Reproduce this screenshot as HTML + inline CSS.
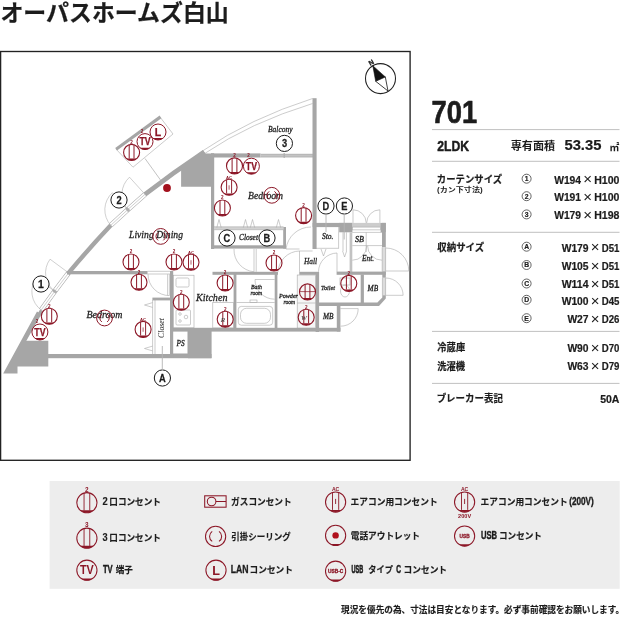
<!DOCTYPE html>
<html lang="ja"><head><meta charset="utf-8"><title>オーパスホームズ白山 701</title>
<style>html,body{margin:0;padding:0;background:#fff}body{width:640px;height:640px;overflow:hidden}svg{display:block;will-change:transform}</style></head>
<body>
<svg width="640" height="640" viewBox="0 0 640 640">
<rect width="640" height="640" fill="#fff"/>
<text transform="translate(0.44 21.00) scale(1.0014 1)" font-family='"Liberation Sans","Noto Sans CJK JP",sans-serif' font-size="22.9" font-weight="bold" font-style="normal" fill="#1c1c1c" stroke="#1c1c1c" stroke-width="0.25" stroke-linejoin="round" vector-effect="non-scaling-stroke" >オーパスホームズ白山</text>
<rect x="0.6" y="51.5" width="409.5" height="408.8" fill="none" stroke="#222" stroke-width="1.35"/>
<g id="plan">
<path d="M203.1 150.6 Q250 118.5 312.6 98.5" stroke="#a9a9a9" stroke-width="0.6" fill="none" />
<path d="M205.2 153.2 Q250 122.8 312.6 103.5" stroke="#a9a9a9" stroke-width="0.6" fill="none" />
<path d="M41.20 310.00 A1100.0 1100.0 0 0 1 68.60 272.90" stroke="#a9a9a9" stroke-width="5.0" fill="none" />
<path d="M41.31 309.85 A1100.0 1100.0 0 0 1 68.49 273.05" stroke="#fff" stroke-width="3.9" fill="none" />
<path d="M41.20 310.00 A1100.0 1100.0 0 0 1 68.60 272.90" stroke="#a9a9a9" stroke-width="0.55" fill="none" />
<path d="M53.88 292.42 L55.53 290.19" stroke="#b2b2b2" stroke-width="4.4" fill="none" />
<path d="M110.80 225.30 A1100.0 1100.0 0 0 1 145.00 194.30" stroke="#a9a9a9" stroke-width="5.0" fill="none" />
<path d="M110.94 225.18 A1100.0 1100.0 0 0 1 144.86 194.42" stroke="#fff" stroke-width="3.9" fill="none" />
<path d="M110.80 225.30 A1100.0 1100.0 0 0 1 145.00 194.30" stroke="#a9a9a9" stroke-width="0.55" fill="none" />
<path d="M126.71 210.55 L128.76 208.69" stroke="#b2b2b2" stroke-width="4.4" fill="none" />
<path d="M22.22 344.67 A1100.0 1100.0 0 0 1 41.60 310.40" stroke="#a6a6a6" stroke-width="3.6" fill="none" />
<path d="M67.76 273.85 A1100.0 1100.0 0 0 1 110.80 225.30" stroke="#a6a6a6" stroke-width="4.4" fill="none" />
<path d="M145.00 194.30 A1100.0 1100.0 0 0 1 204.10 152.00" stroke="#a6a6a6" stroke-width="4.6" fill="none" />
<path d="M3.2 373.4 L17.5 373.4 L17.5 366.6 L48.3 366.6 L48.3 340.8 L25.6 340.8 L39.4 313 L37 311.4 Z" fill="#a6a6a6"/>
<rect x="48.00" y="354.00" width="163.50" height="4.20" fill="#a6a6a6" />
<path d="M181.1 167.5 L203 150.2 L205.6 153.4 L214 153.4 L214 186.8 L181.1 186.8 Z" fill="#a6a6a6"/>
<rect x="211.00" y="153.40" width="49.50" height="4.10" fill="#a6a6a6" />
<rect x="260.50" y="154.00" width="52.50" height="3.20" fill="#c4c4c4" />
<line x1="260.50" y1="154.20" x2="313.00" y2="154.20" stroke="#a9a9a9" stroke-width="0.6" />
<line x1="260.50" y1="157.00" x2="313.00" y2="157.00" stroke="#a9a9a9" stroke-width="0.6" />
<rect x="283.50" y="153.20" width="1.50" height="4.60" fill="#b0b0b0" />
<rect x="211.00" y="153.50" width="3.20" height="95.50" fill="#a6a6a6" />
<rect x="312.50" y="98.20" width="4.10" height="150.80" fill="#a6a6a6" />
<rect x="211.00" y="245.30" width="75.00" height="3.30" fill="#a6a6a6" />
<rect x="283.20" y="227.00" width="2.80" height="21.60" fill="#a6a6a6" />
<rect x="214.00" y="226.80" width="69.40" height="2.90" fill="#d2d2d2" />
<line x1="214.00" y1="226.80" x2="283.50" y2="226.80" stroke="#a9a9a9" stroke-width="0.6" />
<line x1="214.00" y1="229.70" x2="283.50" y2="229.70" stroke="#a9a9a9" stroke-width="0.6" />
<path d="M216.80 227.6 L219.00 219.5 L221.20 227.6" stroke="#a9a9a9" stroke-width="0.6" fill="none" />
<path d="M243.30 227.6 L245.50 219.5 L247.70 227.6" stroke="#a9a9a9" stroke-width="0.6" fill="none" />
<path d="M250.30 227.6 L252.50 219.5 L254.70 227.6" stroke="#a9a9a9" stroke-width="0.6" fill="none" />
<path d="M276.30 227.6 L278.50 219.5 L280.70 227.6" stroke="#a9a9a9" stroke-width="0.6" fill="none" />
<rect x="312.60" y="222.90" width="39.80" height="4.20" fill="#a6a6a6" />
<rect x="339.20" y="222.90" width="13.20" height="9.40" fill="#a6a6a6" />
<rect x="352.40" y="222.90" width="28.60" height="4.10" fill="#cdcdcd" />
<rect x="352.6" y="227.1" width="28" height="2.8" fill="#fff" stroke="#a9a9a9" stroke-width="0.6"/>
<rect x="380.60" y="222.90" width="5.20" height="9.30" fill="#a6a6a6" />
<rect x="382.00" y="222.90" width="3.80" height="24.50" fill="#a6a6a6" />
<rect x="382.20" y="247.40" width="3.60" height="24.10" fill="#dcdcdc" />
<line x1="382.20" y1="247.40" x2="382.20" y2="271.50" stroke="#a9a9a9" stroke-width="0.6" />
<line x1="385.60" y1="247.40" x2="385.60" y2="271.50" stroke="#a9a9a9" stroke-width="0.6" />
<line x1="338.60" y1="227.00" x2="338.60" y2="248.60" stroke="#a9a9a9" stroke-width="0.6" />
<line x1="316.00" y1="248.30" x2="338.60" y2="248.30" stroke="#a9a9a9" stroke-width="0.6" />
<rect x="349.60" y="232.30" width="2.70" height="39.70" fill="#c2c2c2" />
<line x1="343.00" y1="232.30" x2="343.00" y2="251.00" stroke="#a9a9a9" stroke-width="0.6" />
<line x1="346.40" y1="232.30" x2="346.40" y2="251.00" stroke="#a9a9a9" stroke-width="0.6" />
<line x1="352.30" y1="232.40" x2="382.00" y2="232.40" stroke="#a9a9a9" stroke-width="0.6" />
<line x1="352.30" y1="245.60" x2="382.00" y2="245.60" stroke="#a9a9a9" stroke-width="0.6" />
<line x1="366.20" y1="232.40" x2="366.20" y2="252.00" stroke="#a9a9a9" stroke-width="0.6" />
<path d="M353 222.9 L353 209.8 A13.2 13.2 0 0 1 366.2 222.9" stroke="#a9a9a9" stroke-width="0.6" fill="none" />
<path d="M379.9 222.9 L379.9 209.8 A13.2 13.2 0 0 0 366.7 222.9" stroke="#a9a9a9" stroke-width="0.6" fill="none" />
<rect x="212.50" y="271.80" width="65.50" height="3.00" fill="#a6a6a6" />
<rect x="299.30" y="271.80" width="19.20" height="3.00" fill="#a6a6a6" />
<rect x="336.60" y="271.60" width="49.20" height="3.20" fill="#a6a6a6" />
<rect x="233.60" y="272.00" width="2.80" height="56.50" fill="#a6a6a6" />
<rect x="274.70" y="272.00" width="2.70" height="56.50" fill="#a6a6a6" />
<rect x="315.60" y="272.00" width="3.50" height="60.00" fill="#a6a6a6" />
<rect x="360.70" y="274.50" width="3.20" height="28.50" fill="#a6a6a6" />
<rect x="382.30" y="271.50" width="3.50" height="6.30" fill="#a6a6a6" />
<rect x="382.40" y="277.80" width="3.40" height="17.60" fill="#dcdcdc" />
<line x1="382.40" y1="277.80" x2="382.40" y2="295.40" stroke="#a9a9a9" stroke-width="0.6" />
<line x1="385.60" y1="277.80" x2="385.60" y2="295.40" stroke="#a9a9a9" stroke-width="0.6" />
<path d="M382.3 295.2 L385.8 295.2 L385.8 298.6 L379 306 L318.5 306 L318.5 302.6 L377.4 302.6 L382.3 297.4 Z" fill="#a6a6a6"/>
<rect x="336.80" y="306.00" width="3.60" height="25.60" fill="#a6a6a6" />
<rect x="170.00" y="327.80" width="170.40" height="3.80" fill="#a6a6a6" />
<rect x="188.00" y="328.00" width="23.60" height="30.20" fill="#a6a6a6" />
<rect x="170.00" y="297.50" width="3.20" height="60.50" fill="#a6a6a6" />
<rect x="152.40" y="297.60" width="20.60" height="2.80" fill="#a6a6a6" />
<line x1="152.60" y1="300.00" x2="152.60" y2="354.00" stroke="#a9a9a9" stroke-width="0.6" />
<line x1="155.00" y1="300.00" x2="155.00" y2="354.00" stroke="#a9a9a9" stroke-width="0.6" />
<line x1="173.00" y1="353.60" x2="188.00" y2="353.60" stroke="#a9a9a9" stroke-width="0.6" />
<line x1="187.60" y1="331.00" x2="187.60" y2="354.00" stroke="#a9a9a9" stroke-width="0.6" />
<rect x="67.00" y="271.00" width="80.50" height="3.30" fill="#a6a6a6" />
<line x1="147.50" y1="271.30" x2="170.00" y2="271.30" stroke="#a9a9a9" stroke-width="0.6" />
<line x1="147.50" y1="274.00" x2="170.00" y2="274.00" stroke="#a9a9a9" stroke-width="0.6" />
<rect x="170.00" y="271.00" width="3.20" height="29.00" fill="#a6a6a6" />
<path d="M148 274.2 A21.4 21.4 0 0 0 169.4 295.6 L169.4 274.2 M167.6 274.2 L167.6 295.4" stroke="#a9a9a9" stroke-width="0.6" fill="none" />
<path d="M152.6 302.60 L144.5 305.00 L152.6 307.40" stroke="#a9a9a9" stroke-width="0.6" fill="none" />
<path d="M152.6 346.10 L144.5 348.50 L152.6 350.90" stroke="#a9a9a9" stroke-width="0.6" fill="none" />
<rect x="173.6" y="275.2" width="20.4" height="52.6" fill="none" stroke="#a9a9a9" stroke-width="0.6"/>
<rect x="176" y="278" width="13" height="9" rx="1.5" fill="none" stroke="#a9a9a9" stroke-width="0.6"/>
<rect x="176" y="310" width="14.5" height="15" rx="1" fill="none" stroke="#a9a9a9" stroke-width="0.6"/>
<circle cx="186" cy="317" r="1.8" fill="none" stroke="#a9a9a9" stroke-width="0.6"/>
<circle cx="180" cy="314" r="1.3" fill="none" stroke="#a9a9a9" stroke-width="0.6"/>
<circle cx="180" cy="321" r="1.3" fill="none" stroke="#a9a9a9" stroke-width="0.6"/>
<rect x="212.8" y="302.5" width="20.8" height="25.5" fill="none" stroke="#a9a9a9" stroke-width="0.6"/>
<line x1="236.40" y1="302.50" x2="274.70" y2="302.50" stroke="#a9a9a9" stroke-width="0.6" />
<rect x="250" y="300" width="7" height="2.5" fill="none" stroke="#a9a9a9" stroke-width="0.6"/>
<rect x="238.3" y="306.4" width="34.4" height="18.8" rx="3" fill="none" stroke="#a9a9a9" stroke-width="0.6"/>
<rect x="240.5" y="308.3" width="30" height="15" rx="6" fill="none" stroke="#a9a9a9" stroke-width="0.6"/>
<path d="M255 279.5 L274.7 279.5 M255 279.5 A19.7 19.7 0 0 0 274.7 299.2" stroke="#a9a9a9" stroke-width="0.6" fill="none" />
<rect x="297.2" y="275" width="18.4" height="53" fill="#f6f6f6" stroke="#a9a9a9" stroke-width="0.6"/>
<line x1="297.20" y1="303.00" x2="315.60" y2="303.00" stroke="#a9a9a9" stroke-width="0.6" />
<path d="M234 249 A22 22 0 0 0 254 271.8" stroke="#a9a9a9" stroke-width="0.6" fill="none" />
<line x1="254.00" y1="249.00" x2="254.00" y2="271.80" stroke="#a9a9a9" stroke-width="0.6" />
<line x1="256.20" y1="249.00" x2="256.20" y2="271.80" stroke="#a9a9a9" stroke-width="0.6" />
<path d="M286 249 A25 25 0 0 1 311 227" stroke="#a9a9a9" stroke-width="0.6" fill="none" />
<path d="M278 271.8 A22 22 0 0 1 299.5 251" stroke="#a9a9a9" stroke-width="0.6" fill="none" />
<line x1="299.50" y1="251.00" x2="299.50" y2="271.80" stroke="#a9a9a9" stroke-width="0.6" />
<line x1="286.00" y1="249.00" x2="299.50" y2="249.00" stroke="#a9a9a9" stroke-width="0.6" />
<path d="M318.5 271.8 A19 19 0 0 1 337 253" stroke="#a9a9a9" stroke-width="0.6" fill="none" />
<line x1="337.00" y1="253.00" x2="337.00" y2="271.80" stroke="#a9a9a9" stroke-width="0.6" />
<path d="M321 249 L323.5 256 L326 249" stroke="#a9a9a9" stroke-width="0.6" fill="none" />
<path d="M342.6 251 L344.6 257 L346.6 251" stroke="#a9a9a9" stroke-width="0.6" fill="none" />
<line x1="299.50" y1="251.00" x2="312.60" y2="251.00" stroke="#a9a9a9" stroke-width="0.6" />
<rect x="340" y="278" width="10" height="7" fill="none" stroke="#a9a9a9" stroke-width="0.6"/>
<ellipse cx="345" cy="291" rx="4.5" ry="6" fill="none" stroke="#a9a9a9" stroke-width="0.6"/>
<path d="M352.3 260.2 A14.4 14.4 0 0 0 366.7 245.8" stroke="#a9a9a9" stroke-width="0.6" fill="none" />
<path d="M382 260.2 A14.4 14.4 0 0 1 367.6 245.8" stroke="#a9a9a9" stroke-width="0.6" fill="none" />
<path d="M385.8 248 A23 23 0 0 1 408.8 271 L385.8 271" stroke="#a9a9a9" stroke-width="0.6" fill="none" />
<path d="M385.8 278 A17.3 17.3 0 0 1 403.1 295.3 L385.8 295.3" stroke="#a9a9a9" stroke-width="0.6" fill="none" />
<path d="M340.4 308.6 L358.2 308.6 A17.6 17.6 0 0 1 340.6 326.2" stroke="#a9a9a9" stroke-width="0.6" fill="none" />
<path d="M116 149 L160 117 L173 134 L133 167.2 Z" fill="#fff" stroke="#a9a9a9" stroke-width="0.6"/>
<path d="M115.2 148 L159.6 115.6 L161.4 118.2 L117 150.6 Z" fill="#a6a6a6"/>
<line x1="145.00" y1="158.50" x2="160.50" y2="180.00" stroke="#b4b4b4" stroke-width="0.8" />
<path d="M68.60 272.90 L50.05 259.20 A23.06 23.06 0 0 0 54.90 291.45" stroke="#a9a9a9" stroke-width="0.55" fill="none" /><path d="M54.90 291.45 L36.35 277.75 A23.06 23.06 0 0 0 41.20 310.00" stroke="#a9a9a9" stroke-width="0.55" fill="none" />
<path d="M145.00 194.30 L129.50 177.20 A23.08 23.08 0 0 0 127.90 209.80" stroke="#a9a9a9" stroke-width="0.55" fill="none" /><path d="M127.90 209.80 L112.40 192.70 A23.08 23.08 0 0 0 110.80 225.30" stroke="#a9a9a9" stroke-width="0.55" fill="none" />
</g>
<text x="268.00" y="131.50" font-family='"Liberation Serif","Noto Serif CJK SC",serif' font-size="7.8" font-weight="normal" font-style="italic" fill="#1e1e1e" text-anchor="start" textLength="24.50" lengthAdjust="spacingAndGlyphs" stroke="#1e1e1e" stroke-width="0.28" >Balcony</text>
<text x="248.00" y="198.60" font-family='"Liberation Serif","Noto Serif CJK SC",serif' font-size="10.2" font-weight="normal" font-style="italic" fill="#1e1e1e" text-anchor="start" textLength="35.00" lengthAdjust="spacingAndGlyphs" stroke="#1e1e1e" stroke-width="0.28" >Bedroom</text>
<text x="86.50" y="318.00" font-family='"Liberation Serif","Noto Serif CJK SC",serif' font-size="10.2" font-weight="normal" font-style="italic" fill="#1e1e1e" text-anchor="start" textLength="36.00" lengthAdjust="spacingAndGlyphs" stroke="#1e1e1e" stroke-width="0.28" >Bedroom</text>
<text x="129.00" y="238.20" font-family='"Liberation Serif","Noto Serif CJK SC",serif' font-size="10.2" font-weight="normal" font-style="italic" fill="#1e1e1e" text-anchor="start" textLength="54.00" lengthAdjust="spacingAndGlyphs" stroke="#1e1e1e" stroke-width="0.28" >Living Dining</text>
<text x="196.00" y="300.80" font-family='"Liberation Serif","Noto Serif CJK SC",serif' font-size="10.8" font-weight="normal" font-style="italic" fill="#1e1e1e" text-anchor="start" textLength="31.50" lengthAdjust="spacingAndGlyphs" stroke="#1e1e1e" stroke-width="0.28" >Kitchen</text>
<text x="239.00" y="240.40" font-family='"Liberation Serif","Noto Serif CJK SC",serif' font-size="7.6" font-weight="normal" font-style="italic" fill="#1e1e1e" text-anchor="start" textLength="19.00" lengthAdjust="spacingAndGlyphs" stroke="#1e1e1e" stroke-width="0.28" >Closet</text>
<text x="322.00" y="239.40" font-family='"Liberation Serif","Noto Serif CJK SC",serif' font-size="7.4" font-weight="normal" font-style="italic" fill="#1e1e1e" text-anchor="start" textLength="11.50" lengthAdjust="spacingAndGlyphs" stroke="#1e1e1e" stroke-width="0.28" >Sto.</text>
<text x="355.00" y="241.60" font-family='"Liberation Serif","Noto Serif CJK SC",serif' font-size="7.4" font-weight="normal" font-style="italic" fill="#1e1e1e" text-anchor="start" textLength="9.00" lengthAdjust="spacingAndGlyphs" stroke="#1e1e1e" stroke-width="0.28" >SB</text>
<text x="362.00" y="260.80" font-family='"Liberation Serif","Noto Serif CJK SC",serif' font-size="7.4" font-weight="normal" font-style="italic" fill="#1e1e1e" text-anchor="start" textLength="12.00" lengthAdjust="spacingAndGlyphs" stroke="#1e1e1e" stroke-width="0.28" >Ent.</text>
<text x="304.00" y="263.80" font-family='"Liberation Serif","Noto Serif CJK SC",serif' font-size="7.8" font-weight="normal" font-style="italic" fill="#1e1e1e" text-anchor="start" textLength="13.00" lengthAdjust="spacingAndGlyphs" stroke="#1e1e1e" stroke-width="0.28" >Hall</text>
<text x="321.00" y="289.80" font-family='"Liberation Serif","Noto Serif CJK SC",serif' font-size="6.6" font-weight="normal" font-style="italic" fill="#1e1e1e" text-anchor="start" textLength="14.00" lengthAdjust="spacingAndGlyphs" stroke="#1e1e1e" stroke-width="0.28" >Toilet</text>
<text x="367.60" y="290.60" font-family='"Liberation Serif","Noto Serif CJK SC",serif' font-size="7.6" font-weight="normal" font-style="italic" fill="#1e1e1e" text-anchor="start" textLength="10.50" lengthAdjust="spacingAndGlyphs" stroke="#1e1e1e" stroke-width="0.28" >MB</text>
<text x="323.00" y="318.80" font-family='"Liberation Serif","Noto Serif CJK SC",serif' font-size="7.6" font-weight="normal" font-style="italic" fill="#1e1e1e" text-anchor="start" textLength="10.50" lengthAdjust="spacingAndGlyphs" stroke="#1e1e1e" stroke-width="0.28" >MB</text>
<text x="251.00" y="289.00" font-family='"Liberation Serif","Noto Serif CJK SC",serif' font-size="6.2" font-weight="normal" font-style="italic" fill="#1e1e1e" text-anchor="start" textLength="11.00" lengthAdjust="spacingAndGlyphs" stroke="#1e1e1e" stroke-width="0.28" >Bath</text>
<text x="250.50" y="295.20" font-family='"Liberation Serif","Noto Serif CJK SC",serif' font-size="6.2" font-weight="normal" font-style="italic" fill="#1e1e1e" text-anchor="start" textLength="11.50" lengthAdjust="spacingAndGlyphs" stroke="#1e1e1e" stroke-width="0.28" >room</text>
<text x="279.00" y="297.60" font-family='"Liberation Serif","Noto Serif CJK SC",serif' font-size="6.2" font-weight="normal" font-style="italic" fill="#1e1e1e" text-anchor="start" textLength="19.00" lengthAdjust="spacingAndGlyphs" stroke="#1e1e1e" stroke-width="0.28" >Powder</text>
<text x="283.50" y="303.80" font-family='"Liberation Serif","Noto Serif CJK SC",serif' font-size="6.2" font-weight="normal" font-style="italic" fill="#1e1e1e" text-anchor="start" textLength="11.50" lengthAdjust="spacingAndGlyphs" stroke="#1e1e1e" stroke-width="0.28" >room</text>
<text x="176.50" y="345.60" font-family='"Liberation Serif","Noto Serif CJK SC",serif' font-size="7.4" font-weight="normal" font-style="italic" fill="#1e1e1e" text-anchor="start" textLength="8.00" lengthAdjust="spacingAndGlyphs" stroke="#1e1e1e" stroke-width="0.28" >PS</text>
<text transform="translate(164 338) rotate(-90)" font-family='"Liberation Serif","Noto Serif CJK SC",serif' font-size="7.6" font-style="italic" fill="#222" textLength="20" lengthAdjust="spacingAndGlyphs">Closet</text>
<circle cx="131.60" cy="152.40" r="8.00" fill="#fff" stroke="none" stroke-width="0"/><circle cx="145.00" cy="141.60" r="8.00" fill="#fff" stroke="none" stroke-width="0"/><circle cx="158.00" cy="132.00" r="8.00" fill="#fff" stroke="none" stroke-width="0"/>
<circle cx="49.30" cy="316.30" r="8.00" fill="none" stroke="#8c1727" stroke-width="1.1"/><path d="M54.50 322.38 A8.00 8.00 0 0 1 44.10 322.38 Z" fill="#8c1727"/><line x1="46.90" y1="308.67" x2="46.90" y2="322.41" stroke="#8c1727" stroke-width="1.0" /><line x1="51.70" y1="308.67" x2="51.70" y2="322.41" stroke="#8c1727" stroke-width="1.0" /><text x="49.30" y="307.70" font-family='"Liberation Sans","Noto Sans CJK JP",sans-serif' font-size="4.6" font-weight="bold" font-style="normal" fill="#8c1727" text-anchor="middle" >2</text>
<circle cx="131.60" cy="152.40" r="8.00" fill="none" stroke="#8c1727" stroke-width="1.1"/><path d="M136.80 158.48 A8.00 8.00 0 0 1 126.40 158.48 Z" fill="#8c1727"/><line x1="129.20" y1="144.77" x2="129.20" y2="158.51" stroke="#8c1727" stroke-width="1.0" /><line x1="134.00" y1="144.77" x2="134.00" y2="158.51" stroke="#8c1727" stroke-width="1.0" /><text x="131.60" y="143.80" font-family='"Liberation Sans","Noto Sans CJK JP",sans-serif' font-size="4.6" font-weight="bold" font-style="normal" fill="#8c1727" text-anchor="middle" >2</text>
<circle cx="234.50" cy="165.90" r="8.00" fill="none" stroke="#8c1727" stroke-width="1.1"/><path d="M239.70 171.98 A8.00 8.00 0 0 1 229.30 171.98 Z" fill="#8c1727"/><line x1="232.10" y1="158.27" x2="232.10" y2="172.01" stroke="#8c1727" stroke-width="1.0" /><line x1="236.90" y1="158.27" x2="236.90" y2="172.01" stroke="#8c1727" stroke-width="1.0" /><text x="234.50" y="157.30" font-family='"Liberation Sans","Noto Sans CJK JP",sans-serif' font-size="4.6" font-weight="bold" font-style="normal" fill="#8c1727" text-anchor="middle" >2</text>
<circle cx="222.40" cy="208.00" r="8.00" fill="none" stroke="#8c1727" stroke-width="1.1"/><path d="M227.60 214.08 A8.00 8.00 0 0 1 217.20 214.08 Z" fill="#8c1727"/><line x1="220.00" y1="200.37" x2="220.00" y2="214.11" stroke="#8c1727" stroke-width="1.0" /><line x1="224.80" y1="200.37" x2="224.80" y2="214.11" stroke="#8c1727" stroke-width="1.0" /><text x="222.40" y="199.40" font-family='"Liberation Sans","Noto Sans CJK JP",sans-serif' font-size="4.6" font-weight="bold" font-style="normal" fill="#8c1727" text-anchor="middle" >2</text>
<circle cx="303.60" cy="215.60" r="8.00" fill="none" stroke="#8c1727" stroke-width="1.1"/><path d="M308.80 221.68 A8.00 8.00 0 0 1 298.40 221.68 Z" fill="#8c1727"/><line x1="301.20" y1="207.97" x2="301.20" y2="221.71" stroke="#8c1727" stroke-width="1.0" /><line x1="306.00" y1="207.97" x2="306.00" y2="221.71" stroke="#8c1727" stroke-width="1.0" /><text x="303.60" y="207.00" font-family='"Liberation Sans","Noto Sans CJK JP",sans-serif' font-size="4.6" font-weight="bold" font-style="normal" fill="#8c1727" text-anchor="middle" >2</text>
<circle cx="131.00" cy="262.00" r="8.00" fill="none" stroke="#8c1727" stroke-width="1.1"/><path d="M136.20 268.08 A8.00 8.00 0 0 1 125.80 268.08 Z" fill="#8c1727"/><line x1="128.60" y1="254.37" x2="128.60" y2="268.11" stroke="#8c1727" stroke-width="1.0" /><line x1="133.40" y1="254.37" x2="133.40" y2="268.11" stroke="#8c1727" stroke-width="1.0" /><text x="131.00" y="253.40" font-family='"Liberation Sans","Noto Sans CJK JP",sans-serif' font-size="4.6" font-weight="bold" font-style="normal" fill="#8c1727" text-anchor="middle" >2</text>
<circle cx="174.00" cy="262.00" r="8.00" fill="none" stroke="#8c1727" stroke-width="1.1"/><path d="M179.20 268.08 A8.00 8.00 0 0 1 168.80 268.08 Z" fill="#8c1727"/><line x1="171.60" y1="254.37" x2="171.60" y2="268.11" stroke="#8c1727" stroke-width="1.0" /><line x1="176.40" y1="254.37" x2="176.40" y2="268.11" stroke="#8c1727" stroke-width="1.0" /><text x="174.00" y="253.40" font-family='"Liberation Sans","Noto Sans CJK JP",sans-serif' font-size="4.6" font-weight="bold" font-style="normal" fill="#8c1727" text-anchor="middle" >2</text>
<circle cx="139.00" cy="282.20" r="8.00" fill="none" stroke="#8c1727" stroke-width="1.1"/><path d="M144.20 288.28 A8.00 8.00 0 0 1 133.80 288.28 Z" fill="#8c1727"/><line x1="136.60" y1="274.57" x2="136.60" y2="288.31" stroke="#8c1727" stroke-width="1.0" /><line x1="141.40" y1="274.57" x2="141.40" y2="288.31" stroke="#8c1727" stroke-width="1.0" /><text x="139.00" y="273.60" font-family='"Liberation Sans","Noto Sans CJK JP",sans-serif' font-size="4.6" font-weight="bold" font-style="normal" fill="#8c1727" text-anchor="middle" >2</text>
<circle cx="181.30" cy="302.30" r="8.00" fill="none" stroke="#8c1727" stroke-width="1.1"/><path d="M186.50 308.38 A8.00 8.00 0 0 1 176.10 308.38 Z" fill="#8c1727"/><line x1="178.90" y1="294.67" x2="178.90" y2="308.41" stroke="#8c1727" stroke-width="1.0" /><line x1="183.70" y1="294.67" x2="183.70" y2="308.41" stroke="#8c1727" stroke-width="1.0" /><text x="181.30" y="293.70" font-family='"Liberation Sans","Noto Sans CJK JP",sans-serif' font-size="4.6" font-weight="bold" font-style="normal" fill="#8c1727" text-anchor="middle" >2</text>
<circle cx="225.10" cy="283.00" r="8.00" fill="none" stroke="#8c1727" stroke-width="1.1"/><path d="M230.30 289.08 A8.00 8.00 0 0 1 219.90 289.08 Z" fill="#8c1727"/><line x1="222.70" y1="275.37" x2="222.70" y2="289.11" stroke="#8c1727" stroke-width="1.0" /><line x1="227.50" y1="275.37" x2="227.50" y2="289.11" stroke="#8c1727" stroke-width="1.0" /><text x="225.10" y="274.40" font-family='"Liberation Sans","Noto Sans CJK JP",sans-serif' font-size="4.6" font-weight="bold" font-style="normal" fill="#8c1727" text-anchor="middle" >2</text>
<circle cx="274.00" cy="263.00" r="8.00" fill="none" stroke="#8c1727" stroke-width="1.1"/><path d="M279.20 269.08 A8.00 8.00 0 0 1 268.80 269.08 Z" fill="#8c1727"/><line x1="271.60" y1="255.37" x2="271.60" y2="269.11" stroke="#8c1727" stroke-width="1.0" /><line x1="276.40" y1="255.37" x2="276.40" y2="269.11" stroke="#8c1727" stroke-width="1.0" /><text x="274.00" y="254.40" font-family='"Liberation Sans","Noto Sans CJK JP",sans-serif' font-size="4.6" font-weight="bold" font-style="normal" fill="#8c1727" text-anchor="middle" >2</text>
<circle cx="348.80" cy="283.40" r="8.00" fill="none" stroke="#8c1727" stroke-width="1.1"/><path d="M354.00 289.48 A8.00 8.00 0 0 1 343.60 289.48 Z" fill="#8c1727"/><line x1="346.40" y1="275.77" x2="346.40" y2="289.51" stroke="#8c1727" stroke-width="1.0" /><line x1="351.20" y1="275.77" x2="351.20" y2="289.51" stroke="#8c1727" stroke-width="1.0" /><text x="348.80" y="274.80" font-family='"Liberation Sans","Noto Sans CJK JP",sans-serif' font-size="4.6" font-weight="bold" font-style="normal" fill="#8c1727" text-anchor="middle" >2</text>
<circle cx="225.20" cy="319.20" r="8.00" fill="none" stroke="#8c1727" stroke-width="1.1"/><path d="M230.40 325.28 A8.00 8.00 0 0 1 220.00 325.28 Z" fill="#8c1727"/><line x1="222.80" y1="311.57" x2="222.80" y2="325.31" stroke="#8c1727" stroke-width="1.0" /><line x1="227.60" y1="311.57" x2="227.60" y2="325.31" stroke="#8c1727" stroke-width="1.0" /><text x="225.20" y="310.60" font-family='"Liberation Sans","Noto Sans CJK JP",sans-serif' font-size="4.6" font-weight="bold" font-style="normal" fill="#8c1727" text-anchor="middle" >2</text>
<text x="223.00" y="322.00" font-family='"Liberation Serif","Noto Serif CJK SC",serif' font-size="7" font-weight="normal" font-style="italic" fill="#333" text-anchor="middle" >R</text>
<circle cx="307.50" cy="291.90" r="8.00" fill="none" stroke="#8c1727" stroke-width="1.1"/><path d="M312.70 297.98 A8.00 8.00 0 0 1 302.30 297.98 Z" fill="#8c1727"/><line x1="305.10" y1="284.27" x2="305.10" y2="298.01" stroke="#8c1727" stroke-width="1.0" /><line x1="309.90" y1="284.27" x2="309.90" y2="298.01" stroke="#8c1727" stroke-width="1.0" /><line x1="299.80" y1="291.60" x2="315.20" y2="291.60" stroke="#8c1727" stroke-width="0.7" />
<circle cx="306.20" cy="317.20" r="8.00" fill="none" stroke="#8c1727" stroke-width="1.1"/><path d="M311.40 323.28 A8.00 8.00 0 0 1 301.00 323.28 Z" fill="#8c1727"/><line x1="303.80" y1="309.57" x2="303.80" y2="323.31" stroke="#8c1727" stroke-width="1.0" /><line x1="308.60" y1="309.57" x2="308.60" y2="323.31" stroke="#8c1727" stroke-width="1.0" /><text x="306.20" y="308.60" font-family='"Liberation Sans","Noto Sans CJK JP",sans-serif' font-size="4.6" font-weight="bold" font-style="normal" fill="#8c1727" text-anchor="middle" >2</text>
<text x="304.00" y="320.00" font-family='"Liberation Serif","Noto Serif CJK SC",serif' font-size="7" font-weight="normal" font-style="italic" fill="#333" text-anchor="middle" >W</text>
<circle cx="229.10" cy="187.30" r="8.00" fill="none" stroke="#8c1727" stroke-width="1.1"/><path d="M234.30 193.38 A8.00 8.00 0 0 1 223.90 193.38 Z" fill="#8c1727"/><line x1="226.60" y1="179.70" x2="226.60" y2="193.38" stroke="#8c1727" stroke-width="0.95" /><line x1="231.60" y1="179.70" x2="231.60" y2="193.38" stroke="#8c1727" stroke-width="0.95" /><line x1="229.10" y1="185.30" x2="229.10" y2="189.70" stroke="#8c1727" stroke-width="0.7" /><text x="229.10" y="178.60" font-family='"Liberation Sans","Noto Sans CJK JP",sans-serif' font-size="4.2" font-weight="bold" font-style="normal" fill="#8c1727" text-anchor="middle" >AC</text>
<circle cx="191.00" cy="262.20" r="8.00" fill="none" stroke="#8c1727" stroke-width="1.1"/><path d="M196.20 268.28 A8.00 8.00 0 0 1 185.80 268.28 Z" fill="#8c1727"/><line x1="188.50" y1="254.60" x2="188.50" y2="268.28" stroke="#8c1727" stroke-width="0.95" /><line x1="193.50" y1="254.60" x2="193.50" y2="268.28" stroke="#8c1727" stroke-width="0.95" /><line x1="191.00" y1="260.20" x2="191.00" y2="264.60" stroke="#8c1727" stroke-width="0.7" /><text x="191.00" y="253.50" font-family='"Liberation Sans","Noto Sans CJK JP",sans-serif' font-size="4.2" font-weight="bold" font-style="normal" fill="#8c1727" text-anchor="middle" >AC</text>
<circle cx="143.10" cy="329.40" r="8.00" fill="none" stroke="#8c1727" stroke-width="1.1"/><path d="M148.30 335.48 A8.00 8.00 0 0 1 137.90 335.48 Z" fill="#8c1727"/><line x1="140.60" y1="321.80" x2="140.60" y2="335.48" stroke="#8c1727" stroke-width="0.95" /><line x1="145.60" y1="321.80" x2="145.60" y2="335.48" stroke="#8c1727" stroke-width="0.95" /><line x1="143.10" y1="327.40" x2="143.10" y2="331.80" stroke="#8c1727" stroke-width="0.7" /><text x="143.10" y="320.70" font-family='"Liberation Sans","Noto Sans CJK JP",sans-serif' font-size="4.2" font-weight="bold" font-style="normal" fill="#8c1727" text-anchor="middle" >AC</text>
<circle cx="39.90" cy="332.00" r="8.00" fill="none" stroke="#8c1727" stroke-width="1.0"/><path d="M45.10 338.08 A8.00 8.00 0 0 1 34.70 338.08 Z" fill="#8c1727"/><text x="39.90" y="335.67" font-family='"Liberation Sans","Noto Sans CJK JP",sans-serif' font-size="10.2" font-weight="bold" font-style="normal" fill="#8c1727" text-anchor="middle" textLength="11.20" lengthAdjust="spacingAndGlyphs" stroke="#8c1727" stroke-width="0.25">TV</text>
<text x="36.90" y="323.00" font-family='"Liberation Sans","Noto Sans CJK JP",sans-serif' font-size="4.5" font-weight="bold" font-style="normal" fill="#8c1727" text-anchor="middle" >2</text>
<circle cx="145.00" cy="141.60" r="8.00" fill="none" stroke="#8c1727" stroke-width="1.0"/><path d="M150.20 147.68 A8.00 8.00 0 0 1 139.80 147.68 Z" fill="#8c1727"/><text x="145.00" y="145.27" font-family='"Liberation Sans","Noto Sans CJK JP",sans-serif' font-size="10.2" font-weight="bold" font-style="normal" fill="#8c1727" text-anchor="middle" textLength="11.20" lengthAdjust="spacingAndGlyphs" stroke="#8c1727" stroke-width="0.25">TV</text>
<text x="142.00" y="132.60" font-family='"Liberation Sans","Noto Sans CJK JP",sans-serif' font-size="4.5" font-weight="bold" font-style="normal" fill="#8c1727" text-anchor="middle" >2</text>
<circle cx="251.40" cy="166.20" r="8.00" fill="none" stroke="#8c1727" stroke-width="1.0"/><path d="M256.60 172.28 A8.00 8.00 0 0 1 246.20 172.28 Z" fill="#8c1727"/><text x="251.40" y="169.87" font-family='"Liberation Sans","Noto Sans CJK JP",sans-serif' font-size="10.2" font-weight="bold" font-style="normal" fill="#8c1727" text-anchor="middle" textLength="11.20" lengthAdjust="spacingAndGlyphs" stroke="#8c1727" stroke-width="0.25">TV</text>
<text x="248.40" y="157.20" font-family='"Liberation Sans","Noto Sans CJK JP",sans-serif' font-size="4.5" font-weight="bold" font-style="normal" fill="#8c1727" text-anchor="middle" >2</text>
<circle cx="158.00" cy="132.00" r="8.00" fill="none" stroke="#8c1727" stroke-width="1.0"/><path d="M163.20 138.08 A8.00 8.00 0 0 1 152.80 138.08 Z" fill="#8c1727"/><text x="158.00" y="135.78" font-family='"Liberation Sans","Noto Sans CJK JP",sans-serif' font-size="10.5" font-weight="bold" font-style="normal" fill="#8c1727" text-anchor="middle" stroke="#8c1727" stroke-width="0.25">L</text>
<circle cx="104.50" cy="318.00" r="7.90" fill="none" stroke="#8c1727" stroke-width="1.0"/><path d="M101.85 314.07 A4.74 4.74 0 0 0 101.85 321.93" stroke="#8c1727" stroke-width="1.0" fill="none" /><path d="M107.15 314.07 A4.74 4.74 0 0 1 107.15 321.93" stroke="#8c1727" stroke-width="1.0" fill="none" />
<circle cx="160.70" cy="236.40" r="7.90" fill="none" stroke="#8c1727" stroke-width="1.0"/><path d="M158.05 232.47 A4.74 4.74 0 0 0 158.05 240.33" stroke="#8c1727" stroke-width="1.0" fill="none" /><path d="M163.35 232.47 A4.74 4.74 0 0 1 163.35 240.33" stroke="#8c1727" stroke-width="1.0" fill="none" />
<circle cx="271.80" cy="195.30" r="7.90" fill="none" stroke="#8c1727" stroke-width="1.0"/><path d="M269.15 191.37 A4.74 4.74 0 0 0 269.15 199.23" stroke="#8c1727" stroke-width="1.0" fill="none" /><path d="M274.45 191.37 A4.74 4.74 0 0 1 274.45 199.23" stroke="#8c1727" stroke-width="1.0" fill="none" />
<circle cx="167" cy="188" r="3.9" fill="#a3111d"/>
<circle cx="41.00" cy="284.00" r="8.10" fill="#fff" stroke="#1c1c1c" stroke-width="1"/><text transform="translate(37.92 288.00) scale(0.9000 1)" font-family='"Liberation Sans","Noto Sans CJK JP",sans-serif' font-size="11.6" font-weight="bold" font-style="normal" fill="#1c1c1c" stroke="#1c1c1c" stroke-width="0.25" stroke-linejoin="round" vector-effect="non-scaling-stroke" >1</text>
<circle cx="119.00" cy="200.00" r="8.10" fill="#fff" stroke="#1c1c1c" stroke-width="1"/><text transform="translate(116.45 204.06) scale(0.8000 1)" font-family='"Liberation Sans","Noto Sans CJK JP",sans-serif' font-size="11.6" font-weight="bold" font-style="normal" fill="#1c1c1c" stroke="#1c1c1c" stroke-width="0.25" stroke-linejoin="round" vector-effect="non-scaling-stroke" >2</text>
<circle cx="284.40" cy="143.40" r="8.10" fill="#fff" stroke="#1c1c1c" stroke-width="1"/><text transform="translate(281.89 147.46) scale(0.8000 1)" font-family='"Liberation Sans","Noto Sans CJK JP",sans-serif' font-size="11.6" font-weight="bold" font-style="normal" fill="#1c1c1c" stroke="#1c1c1c" stroke-width="0.25" stroke-linejoin="round" vector-effect="non-scaling-stroke" >3</text>
<circle cx="162.40" cy="378.00" r="8.10" fill="#fff" stroke="#1c1c1c" stroke-width="1"/><text transform="translate(159.06 382.00) scale(0.8000 1)" font-family='"Liberation Sans","Noto Sans CJK JP",sans-serif' font-size="11.6" font-weight="bold" font-style="normal" fill="#1c1c1c" stroke="#1c1c1c" stroke-width="0.25" stroke-linejoin="round" vector-effect="non-scaling-stroke" >A</text>
<circle cx="267.00" cy="238.00" r="8.10" fill="#fff" stroke="#1c1c1c" stroke-width="1"/><text transform="translate(263.54 242.00) scale(0.8000 1)" font-family='"Liberation Sans","Noto Sans CJK JP",sans-serif' font-size="11.6" font-weight="bold" font-style="normal" fill="#1c1c1c" stroke="#1c1c1c" stroke-width="0.25" stroke-linejoin="round" vector-effect="non-scaling-stroke" >B</text>
<circle cx="227.00" cy="238.00" r="8.10" fill="#fff" stroke="#1c1c1c" stroke-width="1"/><text transform="translate(223.59 242.06) scale(0.8000 1)" font-family='"Liberation Sans","Noto Sans CJK JP",sans-serif' font-size="11.6" font-weight="bold" font-style="normal" fill="#1c1c1c" stroke="#1c1c1c" stroke-width="0.25" stroke-linejoin="round" vector-effect="non-scaling-stroke" >C</text>
<circle cx="326.00" cy="206.00" r="8.10" fill="#fff" stroke="#1c1c1c" stroke-width="1"/><text transform="translate(322.52 210.00) scale(0.8000 1)" font-family='"Liberation Sans","Noto Sans CJK JP",sans-serif' font-size="11.6" font-weight="bold" font-style="normal" fill="#1c1c1c" stroke="#1c1c1c" stroke-width="0.25" stroke-linejoin="round" vector-effect="non-scaling-stroke" >D</text>
<circle cx="344.40" cy="206.00" r="8.10" fill="#fff" stroke="#1c1c1c" stroke-width="1"/><text transform="translate(341.18 210.00) scale(0.8000 1)" font-family='"Liberation Sans","Noto Sans CJK JP",sans-serif' font-size="11.6" font-weight="bold" font-style="normal" fill="#1c1c1c" stroke="#1c1c1c" stroke-width="0.25" stroke-linejoin="round" vector-effect="non-scaling-stroke" >E</text>
<line x1="162.30" y1="346.00" x2="162.30" y2="370.00" stroke="#b4b4b4" stroke-width="0.9" />
<line x1="326.00" y1="214.00" x2="326.00" y2="232.00" stroke="#b4b4b4" stroke-width="0.9" />
<line x1="344.20" y1="214.00" x2="344.20" y2="239.50" stroke="#b4b4b4" stroke-width="0.9" />
<circle cx="380.5" cy="78.6" r="15" fill="none" stroke="#222" stroke-width="1.05"/>
<path d="M372.8 65.7 L385.3 76.9 L375.7 81.3 Z" fill="#111" stroke="#111" stroke-width="0.6" stroke-linejoin="round"/>
<path d="M385.3 76.9 L388 91 L375.7 81.3 Z" fill="#fff" stroke="#111" stroke-width="0.8" stroke-linejoin="round"/>
<text transform="translate(371.1 62.5) rotate(-30)" font-family='"Liberation Sans","Noto Sans CJK JP",sans-serif' font-size="6.8" font-weight="bold" fill="#111" stroke="#111" stroke-width="0.3" text-anchor="middle" y="2.4">N</text>
<line x1="432.00" y1="129.60" x2="619.50" y2="129.60" stroke="#b9b9b9" stroke-width="0.9" />
<line x1="432.00" y1="161.30" x2="619.50" y2="161.30" stroke="#b9b9b9" stroke-width="0.9" />
<line x1="432.00" y1="232.30" x2="619.50" y2="232.30" stroke="#b9b9b9" stroke-width="0.9" />
<line x1="432.00" y1="331.40" x2="619.50" y2="331.40" stroke="#b9b9b9" stroke-width="0.9" />
<line x1="432.00" y1="383.40" x2="619.50" y2="383.40" stroke="#b9b9b9" stroke-width="0.9" />
<text transform="translate(431.61 123.10) scale(0.8818 1)" font-family='"Liberation Sans","Noto Sans CJK JP",sans-serif' font-size="31.0" font-weight="bold" font-style="normal" fill="#1c1c1c" stroke="#1c1c1c" stroke-width="0.6" stroke-linejoin="round" vector-effect="non-scaling-stroke" >701</text>
<text transform="translate(437.23 150.50) scale(0.8471 1)" font-family='"Liberation Sans","Noto Sans CJK JP",sans-serif' font-size="14.4" font-weight="bold" font-style="normal" fill="#1c1c1c" stroke="#1c1c1c" stroke-width="0.4" stroke-linejoin="round" vector-effect="non-scaling-stroke" >2LDK</text>
<text transform="translate(510.76 150.40) scale(1.0199 1)" font-family='"Liberation Sans","Noto Sans CJK JP",sans-serif' font-size="10.9" font-weight="bold" font-style="normal" fill="#1c1c1c" >専有面積</text>
<text transform="translate(564.46 150.10) scale(1.0694 1)" font-family='"Liberation Sans","Noto Sans CJK JP",sans-serif' font-size="13.8" font-weight="bold" font-style="normal" fill="#1c1c1c" stroke="#1c1c1c" stroke-width="0.2" stroke-linejoin="round" vector-effect="non-scaling-stroke" >53.35</text>
<text transform="translate(609.62 150.60) scale(0.9586 1)" font-family='"Liberation Sans","Noto Sans CJK JP",sans-serif' font-size="10.2" font-weight="bold" font-style="normal" fill="#1c1c1c" >㎡</text>
<text transform="translate(436.85 182.70) scale(0.9575 1)" font-family='"Liberation Sans","Noto Sans CJK JP",sans-serif' font-size="9.8" font-weight="bold" font-style="normal" fill="#1c1c1c" stroke="#1c1c1c" stroke-width="0.2" stroke-linejoin="round" vector-effect="non-scaling-stroke" >カーテンサイズ</text>
<text transform="translate(436.94 192.30) scale(1.1561 1)" font-family='"Liberation Sans","Noto Sans CJK JP",sans-serif' font-size="7.0" font-weight="bold" font-style="normal" fill="#1c1c1c" >(カン下寸法)</text>
<circle cx="526.6" cy="178.70" r="4.5" fill="none" stroke="#333" stroke-width="0.75"/><text x="526.60" y="181.15" font-family='"Liberation Sans","Noto Sans CJK JP",sans-serif' font-size="6.8" font-weight="bold" font-style="normal" fill="#222" text-anchor="middle" stroke="#222" stroke-width="0.2">1</text><text x="619.40" y="183.50" font-family='"Liberation Sans","Noto Sans CJK JP",sans-serif' font-size="10.5" font-weight="bold" font-style="normal" fill="#1c1c1c" text-anchor="end" textLength="25.20" lengthAdjust="spacingAndGlyphs" stroke="#1c1c1c" stroke-width="0.2">H100</text><text x="587.60" y="184.40" font-family='"Liberation Sans","Noto Sans CJK JP",sans-serif' font-size="15" font-weight="normal" font-style="normal" fill="#1c1c1c" text-anchor="middle" >×</text><text x="581.10" y="183.50" font-family='"Liberation Sans","Noto Sans CJK JP",sans-serif' font-size="10.5" font-weight="bold" font-style="normal" fill="#1c1c1c" text-anchor="end" textLength="26.95" lengthAdjust="spacingAndGlyphs" stroke="#1c1c1c" stroke-width="0.2">W194</text>
<circle cx="526.6" cy="196.20" r="4.5" fill="none" stroke="#333" stroke-width="0.75"/><text x="526.60" y="198.65" font-family='"Liberation Sans","Noto Sans CJK JP",sans-serif' font-size="6.8" font-weight="bold" font-style="normal" fill="#222" text-anchor="middle" stroke="#222" stroke-width="0.2">2</text><text x="619.40" y="201.00" font-family='"Liberation Sans","Noto Sans CJK JP",sans-serif' font-size="10.5" font-weight="bold" font-style="normal" fill="#1c1c1c" text-anchor="end" textLength="25.20" lengthAdjust="spacingAndGlyphs" stroke="#1c1c1c" stroke-width="0.2">H100</text><text x="587.60" y="201.90" font-family='"Liberation Sans","Noto Sans CJK JP",sans-serif' font-size="15" font-weight="normal" font-style="normal" fill="#1c1c1c" text-anchor="middle" >×</text><text x="581.10" y="201.00" font-family='"Liberation Sans","Noto Sans CJK JP",sans-serif' font-size="10.5" font-weight="bold" font-style="normal" fill="#1c1c1c" text-anchor="end" textLength="26.95" lengthAdjust="spacingAndGlyphs" stroke="#1c1c1c" stroke-width="0.2">W191</text>
<circle cx="526.6" cy="214.40" r="4.5" fill="none" stroke="#333" stroke-width="0.75"/><text x="526.60" y="216.85" font-family='"Liberation Sans","Noto Sans CJK JP",sans-serif' font-size="6.8" font-weight="bold" font-style="normal" fill="#222" text-anchor="middle" stroke="#222" stroke-width="0.2">3</text><text x="619.40" y="219.20" font-family='"Liberation Sans","Noto Sans CJK JP",sans-serif' font-size="10.5" font-weight="bold" font-style="normal" fill="#1c1c1c" text-anchor="end" textLength="25.20" lengthAdjust="spacingAndGlyphs" stroke="#1c1c1c" stroke-width="0.2">H198</text><text x="587.60" y="220.10" font-family='"Liberation Sans","Noto Sans CJK JP",sans-serif' font-size="15" font-weight="normal" font-style="normal" fill="#1c1c1c" text-anchor="middle" >×</text><text x="581.10" y="219.20" font-family='"Liberation Sans","Noto Sans CJK JP",sans-serif' font-size="10.5" font-weight="bold" font-style="normal" fill="#1c1c1c" text-anchor="end" textLength="26.95" lengthAdjust="spacingAndGlyphs" stroke="#1c1c1c" stroke-width="0.2">W179</text>
<text transform="translate(437.31 251.10) scale(0.9617 1)" font-family='"Liberation Sans","Noto Sans CJK JP",sans-serif' font-size="9.8" font-weight="bold" font-style="normal" fill="#1c1c1c" stroke="#1c1c1c" stroke-width="0.2" stroke-linejoin="round" vector-effect="non-scaling-stroke" >収納サイズ</text>
<circle cx="526.6" cy="246.70" r="4.5" fill="none" stroke="#333" stroke-width="0.75"/><text x="526.60" y="249.15" font-family='"Liberation Sans","Noto Sans CJK JP",sans-serif' font-size="6.8" font-weight="bold" font-style="normal" fill="#222" text-anchor="middle" stroke="#222" stroke-width="0.2">A</text><text x="619.40" y="251.50" font-family='"Liberation Sans","Noto Sans CJK JP",sans-serif' font-size="10.5" font-weight="bold" font-style="normal" fill="#1c1c1c" text-anchor="end" textLength="17.70" lengthAdjust="spacingAndGlyphs" stroke="#1c1c1c" stroke-width="0.2">D51</text><text x="595.10" y="252.40" font-family='"Liberation Sans","Noto Sans CJK JP",sans-serif' font-size="15" font-weight="normal" font-style="normal" fill="#1c1c1c" text-anchor="middle" >×</text><text x="588.60" y="251.50" font-family='"Liberation Sans","Noto Sans CJK JP",sans-serif' font-size="10.5" font-weight="bold" font-style="normal" fill="#1c1c1c" text-anchor="end" textLength="26.95" lengthAdjust="spacingAndGlyphs" stroke="#1c1c1c" stroke-width="0.2">W179</text>
<circle cx="526.6" cy="265.00" r="4.5" fill="none" stroke="#333" stroke-width="0.75"/><text x="526.60" y="267.45" font-family='"Liberation Sans","Noto Sans CJK JP",sans-serif' font-size="6.8" font-weight="bold" font-style="normal" fill="#222" text-anchor="middle" stroke="#222" stroke-width="0.2">B</text><text x="619.40" y="269.80" font-family='"Liberation Sans","Noto Sans CJK JP",sans-serif' font-size="10.5" font-weight="bold" font-style="normal" fill="#1c1c1c" text-anchor="end" textLength="17.70" lengthAdjust="spacingAndGlyphs" stroke="#1c1c1c" stroke-width="0.2">D51</text><text x="595.10" y="270.70" font-family='"Liberation Sans","Noto Sans CJK JP",sans-serif' font-size="15" font-weight="normal" font-style="normal" fill="#1c1c1c" text-anchor="middle" >×</text><text x="588.60" y="269.80" font-family='"Liberation Sans","Noto Sans CJK JP",sans-serif' font-size="10.5" font-weight="bold" font-style="normal" fill="#1c1c1c" text-anchor="end" textLength="26.95" lengthAdjust="spacingAndGlyphs" stroke="#1c1c1c" stroke-width="0.2">W105</text>
<circle cx="526.6" cy="283.50" r="4.5" fill="none" stroke="#333" stroke-width="0.75"/><text x="526.60" y="285.95" font-family='"Liberation Sans","Noto Sans CJK JP",sans-serif' font-size="6.8" font-weight="bold" font-style="normal" fill="#222" text-anchor="middle" stroke="#222" stroke-width="0.2">C</text><text x="619.40" y="288.30" font-family='"Liberation Sans","Noto Sans CJK JP",sans-serif' font-size="10.5" font-weight="bold" font-style="normal" fill="#1c1c1c" text-anchor="end" textLength="17.70" lengthAdjust="spacingAndGlyphs" stroke="#1c1c1c" stroke-width="0.2">D51</text><text x="595.10" y="289.20" font-family='"Liberation Sans","Noto Sans CJK JP",sans-serif' font-size="15" font-weight="normal" font-style="normal" fill="#1c1c1c" text-anchor="middle" >×</text><text x="588.60" y="288.30" font-family='"Liberation Sans","Noto Sans CJK JP",sans-serif' font-size="10.5" font-weight="bold" font-style="normal" fill="#1c1c1c" text-anchor="end" textLength="26.95" lengthAdjust="spacingAndGlyphs" stroke="#1c1c1c" stroke-width="0.2">W114</text>
<circle cx="526.6" cy="299.80" r="4.5" fill="none" stroke="#333" stroke-width="0.75"/><text x="526.60" y="302.25" font-family='"Liberation Sans","Noto Sans CJK JP",sans-serif' font-size="6.8" font-weight="bold" font-style="normal" fill="#222" text-anchor="middle" stroke="#222" stroke-width="0.2">D</text><text x="619.40" y="304.60" font-family='"Liberation Sans","Noto Sans CJK JP",sans-serif' font-size="10.5" font-weight="bold" font-style="normal" fill="#1c1c1c" text-anchor="end" textLength="17.70" lengthAdjust="spacingAndGlyphs" stroke="#1c1c1c" stroke-width="0.2">D45</text><text x="595.10" y="305.50" font-family='"Liberation Sans","Noto Sans CJK JP",sans-serif' font-size="15" font-weight="normal" font-style="normal" fill="#1c1c1c" text-anchor="middle" >×</text><text x="588.60" y="304.60" font-family='"Liberation Sans","Noto Sans CJK JP",sans-serif' font-size="10.5" font-weight="bold" font-style="normal" fill="#1c1c1c" text-anchor="end" textLength="26.95" lengthAdjust="spacingAndGlyphs" stroke="#1c1c1c" stroke-width="0.2">W100</text>
<circle cx="526.6" cy="318.20" r="4.5" fill="none" stroke="#333" stroke-width="0.75"/><text x="526.60" y="320.65" font-family='"Liberation Sans","Noto Sans CJK JP",sans-serif' font-size="6.8" font-weight="bold" font-style="normal" fill="#222" text-anchor="middle" stroke="#222" stroke-width="0.2">E</text><text x="619.40" y="323.00" font-family='"Liberation Sans","Noto Sans CJK JP",sans-serif' font-size="10.5" font-weight="bold" font-style="normal" fill="#1c1c1c" text-anchor="end" textLength="17.70" lengthAdjust="spacingAndGlyphs" stroke="#1c1c1c" stroke-width="0.2">D26</text><text x="595.10" y="323.90" font-family='"Liberation Sans","Noto Sans CJK JP",sans-serif' font-size="15" font-weight="normal" font-style="normal" fill="#1c1c1c" text-anchor="middle" >×</text><text x="588.60" y="323.00" font-family='"Liberation Sans","Noto Sans CJK JP",sans-serif' font-size="10.5" font-weight="bold" font-style="normal" fill="#1c1c1c" text-anchor="end" textLength="21.20" lengthAdjust="spacingAndGlyphs" stroke="#1c1c1c" stroke-width="0.2">W27</text>
<text transform="translate(437.27 351.20) scale(0.9510 1)" font-family='"Liberation Sans","Noto Sans CJK JP",sans-serif' font-size="9.8" font-weight="bold" font-style="normal" fill="#1c1c1c" stroke="#1c1c1c" stroke-width="0.2" stroke-linejoin="round" vector-effect="non-scaling-stroke" >冷蔵庫</text>
<text x="619.40" y="351.90" font-family='"Liberation Sans","Noto Sans CJK JP",sans-serif' font-size="10.5" font-weight="bold" font-style="normal" fill="#1c1c1c" text-anchor="end" textLength="17.70" lengthAdjust="spacingAndGlyphs" stroke="#1c1c1c" stroke-width="0.2">D70</text><text x="595.10" y="352.80" font-family='"Liberation Sans","Noto Sans CJK JP",sans-serif' font-size="15" font-weight="normal" font-style="normal" fill="#1c1c1c" text-anchor="middle" >×</text><text x="588.60" y="351.90" font-family='"Liberation Sans","Noto Sans CJK JP",sans-serif' font-size="10.5" font-weight="bold" font-style="normal" fill="#1c1c1c" text-anchor="end" textLength="21.20" lengthAdjust="spacingAndGlyphs" stroke="#1c1c1c" stroke-width="0.2">W90</text>
<text transform="translate(437.27 369.90) scale(0.9446 1)" font-family='"Liberation Sans","Noto Sans CJK JP",sans-serif' font-size="9.8" font-weight="bold" font-style="normal" fill="#1c1c1c" stroke="#1c1c1c" stroke-width="0.2" stroke-linejoin="round" vector-effect="non-scaling-stroke" >洗濯機</text>
<text x="619.40" y="370.30" font-family='"Liberation Sans","Noto Sans CJK JP",sans-serif' font-size="10.5" font-weight="bold" font-style="normal" fill="#1c1c1c" text-anchor="end" textLength="17.70" lengthAdjust="spacingAndGlyphs" stroke="#1c1c1c" stroke-width="0.2">D79</text><text x="595.10" y="371.20" font-family='"Liberation Sans","Noto Sans CJK JP",sans-serif' font-size="15" font-weight="normal" font-style="normal" fill="#1c1c1c" text-anchor="middle" >×</text><text x="588.60" y="370.30" font-family='"Liberation Sans","Noto Sans CJK JP",sans-serif' font-size="10.5" font-weight="bold" font-style="normal" fill="#1c1c1c" text-anchor="end" textLength="21.20" lengthAdjust="spacingAndGlyphs" stroke="#1c1c1c" stroke-width="0.2">W63</text>
<text transform="translate(436.65 402.00) scale(0.9662 1)" font-family='"Liberation Sans","Noto Sans CJK JP",sans-serif' font-size="9.8" font-weight="bold" font-style="normal" fill="#1c1c1c" stroke="#1c1c1c" stroke-width="0.2" stroke-linejoin="round" vector-effect="non-scaling-stroke" >ブレーカー表記</text>
<text x="619.40" y="402.70" font-family='"Liberation Sans","Noto Sans CJK JP",sans-serif' font-size="10.5" font-weight="bold" font-style="normal" fill="#1c1c1c" text-anchor="end" stroke="#1c1c1c" stroke-width="0.2">50A</text>
<rect x="49.6" y="481" width="570.1" height="107.8" fill="#ededed"/>
<circle cx="86.90" cy="502.70" r="10.10" fill="none" stroke="#8c1727" stroke-width="1.05"/><path d="M93.69 510.17 A10.10 10.10 0 0 1 80.11 510.17 Z" fill="#8c1727"/><line x1="84.05" y1="493.01" x2="84.05" y2="510.45" stroke="#8c1727" stroke-width="0.9" /><line x1="89.75" y1="493.01" x2="89.75" y2="510.45" stroke="#8c1727" stroke-width="0.9" /><text x="86.90" y="491.90" font-family='"Liberation Sans","Noto Sans CJK JP",sans-serif' font-size="6.4" font-weight="bold" font-style="normal" fill="#8c1727" text-anchor="middle" >2</text>
<g><text transform="translate(102.52 505.00) scale(0.9235 1)" font-family='"Liberation Sans","Noto Sans CJK JP",sans-serif' font-size="10.165000000000001" font-weight="bold" font-style="normal" fill="#1c1c1c" stroke="#1c1c1c" stroke-width="0.15" stroke-linejoin="round" vector-effect="non-scaling-stroke" >2</text><text transform="translate(109.30 505.00) scale(0.9337 1)" font-family='"Liberation Sans","Noto Sans CJK JP",sans-serif' font-size="9.215" font-weight="bold" font-style="normal" fill="#1c1c1c" stroke="#1c1c1c" stroke-width="0.15" stroke-linejoin="round" vector-effect="non-scaling-stroke" >口コンセント</text></g>
<circle cx="86.90" cy="538.20" r="10.10" fill="none" stroke="#8c1727" stroke-width="1.05"/><path d="M93.69 545.67 A10.10 10.10 0 0 1 80.11 545.67 Z" fill="#8c1727"/><line x1="84.05" y1="528.51" x2="84.05" y2="545.95" stroke="#8c1727" stroke-width="0.9" /><line x1="89.75" y1="528.51" x2="89.75" y2="545.95" stroke="#8c1727" stroke-width="0.9" /><text x="86.90" y="527.40" font-family='"Liberation Sans","Noto Sans CJK JP",sans-serif' font-size="6.4" font-weight="bold" font-style="normal" fill="#8c1727" text-anchor="middle" >3</text>
<g><text transform="translate(102.62 540.60) scale(0.9051 1)" font-family='"Liberation Sans","Noto Sans CJK JP",sans-serif' font-size="10.165000000000001" font-weight="bold" font-style="normal" fill="#1c1c1c" stroke="#1c1c1c" stroke-width="0.15" stroke-linejoin="round" vector-effect="non-scaling-stroke" >3</text><text transform="translate(109.30 540.60) scale(0.9337 1)" font-family='"Liberation Sans","Noto Sans CJK JP",sans-serif' font-size="9.215" font-weight="bold" font-style="normal" fill="#1c1c1c" stroke="#1c1c1c" stroke-width="0.15" stroke-linejoin="round" vector-effect="non-scaling-stroke" >口コンセント</text></g>
<circle cx="86.90" cy="570.20" r="10.10" fill="none" stroke="#8c1727" stroke-width="1.05"/><path d="M92.68 578.48 A10.10 10.10 0 0 1 81.12 578.48 Z" fill="#8c1727"/><text x="86.90" y="574.41" font-family='"Liberation Sans","Noto Sans CJK JP",sans-serif' font-size="12.2" font-weight="bold" font-style="normal" fill="#8c1727" text-anchor="middle" textLength="13.80" lengthAdjust="spacingAndGlyphs" >TV</text>
<g><text transform="translate(102.92 573.40) scale(0.7461 1)" font-family='"Liberation Sans","Noto Sans CJK JP",sans-serif' font-size="10.165000000000001" font-weight="bold" font-style="normal" fill="#1c1c1c" stroke="#1c1c1c" stroke-width="0.38" stroke-linejoin="round" vector-effect="non-scaling-stroke" >TV</text><text transform="translate(115.63 573.40) scale(0.9262 1)" font-family='"Liberation Sans","Noto Sans CJK JP",sans-serif' font-size="9.215" font-weight="bold" font-style="normal" fill="#1c1c1c" stroke="#1c1c1c" stroke-width="0.15" stroke-linejoin="round" vector-effect="non-scaling-stroke" >端子</text></g>
<rect x="204.7" y="495.8" width="21.4" height="11.4" fill="none" stroke="#8c1727" stroke-width="1.05"/>
<circle cx="211.6" cy="501.5" r="4.3" fill="none" stroke="#8c1727" stroke-width="1.05"/>
<line x1="215.90" y1="501.50" x2="226.00" y2="501.50" stroke="#8c1727" stroke-width="1.05" />
<g><text transform="translate(231.08 505.00) scale(0.9402 1)" font-family='"Liberation Sans","Noto Sans CJK JP",sans-serif' font-size="9.215" font-weight="bold" font-style="normal" fill="#1c1c1c" stroke="#1c1c1c" stroke-width="0.15" stroke-linejoin="round" vector-effect="non-scaling-stroke" >ガスコンセント</text></g>
<circle cx="215.60" cy="536.40" r="10.10" fill="none" stroke="#8c1727" stroke-width="1.05"/><path d="M212.21 531.38 A6.06 6.06 0 0 0 212.21 541.42" stroke="#8c1727" stroke-width="1.05" fill="none" /><path d="M218.99 531.38 A6.06 6.06 0 0 1 218.99 541.42" stroke="#8c1727" stroke-width="1.05" fill="none" />
<g><text transform="translate(231.17 539.80) scale(0.9239 1)" font-family='"Liberation Sans","Noto Sans CJK JP",sans-serif' font-size="9.215" font-weight="bold" font-style="normal" fill="#1c1c1c" stroke="#1c1c1c" stroke-width="0.15" stroke-linejoin="round" vector-effect="non-scaling-stroke" >引掛シーリング</text></g>
<circle cx="216.00" cy="570.20" r="10.10" fill="none" stroke="#8c1727" stroke-width="1.05"/><path d="M221.78 578.48 A10.10 10.10 0 0 1 210.22 578.48 Z" fill="#8c1727"/><text x="216.00" y="574.55" font-family='"Liberation Sans","Noto Sans CJK JP",sans-serif' font-size="12.6" font-weight="bold" font-style="normal" fill="#8c1727" text-anchor="middle" >L</text>
<g><text transform="translate(230.74 573.40) scale(0.8543 1)" font-family='"Liberation Sans","Noto Sans CJK JP",sans-serif' font-size="10.165000000000001" font-weight="bold" font-style="normal" fill="#1c1c1c" stroke="#1c1c1c" stroke-width="0.28" stroke-linejoin="round" vector-effect="non-scaling-stroke" >LAN</text><text transform="translate(249.59 573.40) scale(0.9406 1)" font-family='"Liberation Sans","Noto Sans CJK JP",sans-serif' font-size="9.215" font-weight="bold" font-style="normal" fill="#1c1c1c" stroke="#1c1c1c" stroke-width="0.15" stroke-linejoin="round" vector-effect="non-scaling-stroke" >コンセント</text></g>
<circle cx="335.60" cy="502.00" r="10.10" fill="none" stroke="#8c1727" stroke-width="1.05"/><path d="M341.79 509.98 A10.10 10.10 0 0 1 329.41 509.98 Z" fill="#8c1727"/><line x1="332.50" y1="492.39" x2="332.50" y2="509.88" stroke="#8c1727" stroke-width="0.9" /><line x1="338.70" y1="492.39" x2="338.70" y2="509.88" stroke="#8c1727" stroke-width="0.9" /><line x1="335.60" y1="498.90" x2="335.60" y2="504.00" stroke="#8c1727" stroke-width="0.9" /><text x="335.60" y="491.20" font-family='"Liberation Sans","Noto Sans CJK JP",sans-serif' font-size="6.0" font-weight="bold" font-style="normal" fill="#8c1727" text-anchor="middle" textLength="7.40" lengthAdjust="spacingAndGlyphs" >AC</text>
<g><text transform="translate(350.59 504.60) scale(0.9457 1)" font-family='"Liberation Sans","Noto Sans CJK JP",sans-serif' font-size="9.215" font-weight="bold" font-style="normal" fill="#1c1c1c" stroke="#1c1c1c" stroke-width="0.15" stroke-linejoin="round" vector-effect="non-scaling-stroke" >エアコン用コンセント</text></g>
<circle cx="335.60" cy="535.40" r="10.10" fill="none" stroke="#8c1727" stroke-width="1.05"/>
<path d="M340.92 543.99 A10.10 10.10 0 0 1 330.28 543.99 Z" fill="#8c1727"/>
<circle cx="335.6" cy="535.4" r="3.2" fill="#b0101c"/>
<g><text transform="translate(350.72 538.60) scale(0.9415 1)" font-family='"Liberation Sans","Noto Sans CJK JP",sans-serif' font-size="9.215" font-weight="bold" font-style="normal" fill="#1c1c1c" stroke="#1c1c1c" stroke-width="0.15" stroke-linejoin="round" vector-effect="non-scaling-stroke" >電話アウトレット</text></g>
<circle cx="335.60" cy="571.20" r="10.10" fill="none" stroke="#8c1727" stroke-width="1.05"/><path d="M341.38 579.48 A10.10 10.10 0 0 1 329.82 579.48 Z" fill="#8c1727"/><text transform="translate(327.91 573.20) scale(0.8399 1)" font-family='"Liberation Sans","Noto Sans CJK JP",sans-serif' font-size="5.8" font-weight="bold" font-style="normal" fill="#8c1727" stroke="#8c1727" stroke-width="0.3" stroke-linejoin="round" vector-effect="non-scaling-stroke" >USB-C</text>
<g><text transform="translate(351.57 573.40) scale(0.5435 1)" font-family='"Liberation Sans","Noto Sans CJK JP",sans-serif' font-size="10.165000000000001" font-weight="bold" font-style="normal" fill="#1c1c1c" stroke="#1c1c1c" stroke-width="0.5" stroke-linejoin="round" vector-effect="non-scaling-stroke" >USB</text><text transform="translate(368.15 573.40) scale(0.8963 1)" font-family='"Liberation Sans","Noto Sans CJK JP",sans-serif' font-size="9.215" font-weight="bold" font-style="normal" fill="#1c1c1c" stroke="#1c1c1c" stroke-width="0.15" stroke-linejoin="round" vector-effect="non-scaling-stroke" >タイプ</text><text transform="translate(396.34 573.40) scale(0.6458 1)" font-family='"Liberation Sans","Noto Sans CJK JP",sans-serif' font-size="10.165000000000001" font-weight="bold" font-style="normal" fill="#1c1c1c" stroke="#1c1c1c" stroke-width="0.47" stroke-linejoin="round" vector-effect="non-scaling-stroke" >C</text><text transform="translate(403.58 573.40) scale(0.9452 1)" font-family='"Liberation Sans","Noto Sans CJK JP",sans-serif' font-size="9.215" font-weight="bold" font-style="normal" fill="#1c1c1c" stroke="#1c1c1c" stroke-width="0.15" stroke-linejoin="round" vector-effect="non-scaling-stroke" >コンセント</text></g>
<circle cx="464.60" cy="502.00" r="10.10" fill="none" stroke="#8c1727" stroke-width="1.05"/><path d="M470.79 509.98 A10.10 10.10 0 0 1 458.41 509.98 Z" fill="#8c1727"/><line x1="461.50" y1="492.39" x2="461.50" y2="509.88" stroke="#8c1727" stroke-width="0.9" /><line x1="467.70" y1="492.39" x2="467.70" y2="509.88" stroke="#8c1727" stroke-width="0.9" /><line x1="464.60" y1="498.90" x2="464.60" y2="504.00" stroke="#8c1727" stroke-width="0.9" /><text x="464.60" y="491.20" font-family='"Liberation Sans","Noto Sans CJK JP",sans-serif' font-size="6.0" font-weight="bold" font-style="normal" fill="#8c1727" text-anchor="middle" textLength="7.40" lengthAdjust="spacingAndGlyphs" >AC</text><text x="464.60" y="517.70" font-family='"Liberation Sans","Noto Sans CJK JP",sans-serif' font-size="5.8" font-weight="bold" font-style="normal" fill="#8c1727" text-anchor="middle" textLength="13.00" lengthAdjust="spacingAndGlyphs" >200V</text>
<g><text transform="translate(480.59 504.60) scale(0.9457 1)" font-family='"Liberation Sans","Noto Sans CJK JP",sans-serif' font-size="9.215" font-weight="bold" font-style="normal" fill="#1c1c1c" stroke="#1c1c1c" stroke-width="0.15" stroke-linejoin="round" vector-effect="non-scaling-stroke" >エアコン用コンセント</text><text transform="translate(569.23 504.60) scale(0.8050 1)" font-family='"Liberation Sans","Noto Sans CJK JP",sans-serif' font-size="10.165000000000001" font-weight="bold" font-style="normal" fill="#1c1c1c" stroke="#1c1c1c" stroke-width="0.33" stroke-linejoin="round" vector-effect="non-scaling-stroke" >(200V)</text></g>
<circle cx="464.60" cy="536.00" r="10.10" fill="none" stroke="#8c1727" stroke-width="1.05"/><path d="M470.38 544.28 A10.10 10.10 0 0 1 458.82 544.28 Z" fill="#8c1727"/><text transform="translate(459.51 538.10) scale(0.8099 1)" font-family='"Liberation Sans","Noto Sans CJK JP",sans-serif' font-size="5.9" font-weight="bold" font-style="normal" fill="#8c1727" stroke="#8c1727" stroke-width="0.3" stroke-linejoin="round" vector-effect="non-scaling-stroke" >USB</text>
<g><text transform="translate(481.04 538.60) scale(0.7492 1)" font-family='"Liberation Sans","Noto Sans CJK JP",sans-serif' font-size="10.165000000000001" font-weight="bold" font-style="normal" fill="#1c1c1c" stroke="#1c1c1c" stroke-width="0.38" stroke-linejoin="round" vector-effect="non-scaling-stroke" >USB</text><text transform="translate(499.00 538.60) scale(0.9315 1)" font-family='"Liberation Sans","Noto Sans CJK JP",sans-serif' font-size="9.215" font-weight="bold" font-style="normal" fill="#1c1c1c" stroke="#1c1c1c" stroke-width="0.15" stroke-linejoin="round" vector-effect="non-scaling-stroke" >コンセント</text></g>
<text transform="translate(341.07 613.00) scale(0.9618 1)" font-family='"Liberation Sans","Noto Sans CJK JP",sans-serif' font-size="9.0" font-weight="bold" font-style="normal" fill="#1c1c1c" stroke="#1c1c1c" stroke-width="0.15" stroke-linejoin="round" vector-effect="non-scaling-stroke" >現況を優先の為、寸法は目安となります。必ず事前確認をお願いします。</text>
</svg>
</body></html>
